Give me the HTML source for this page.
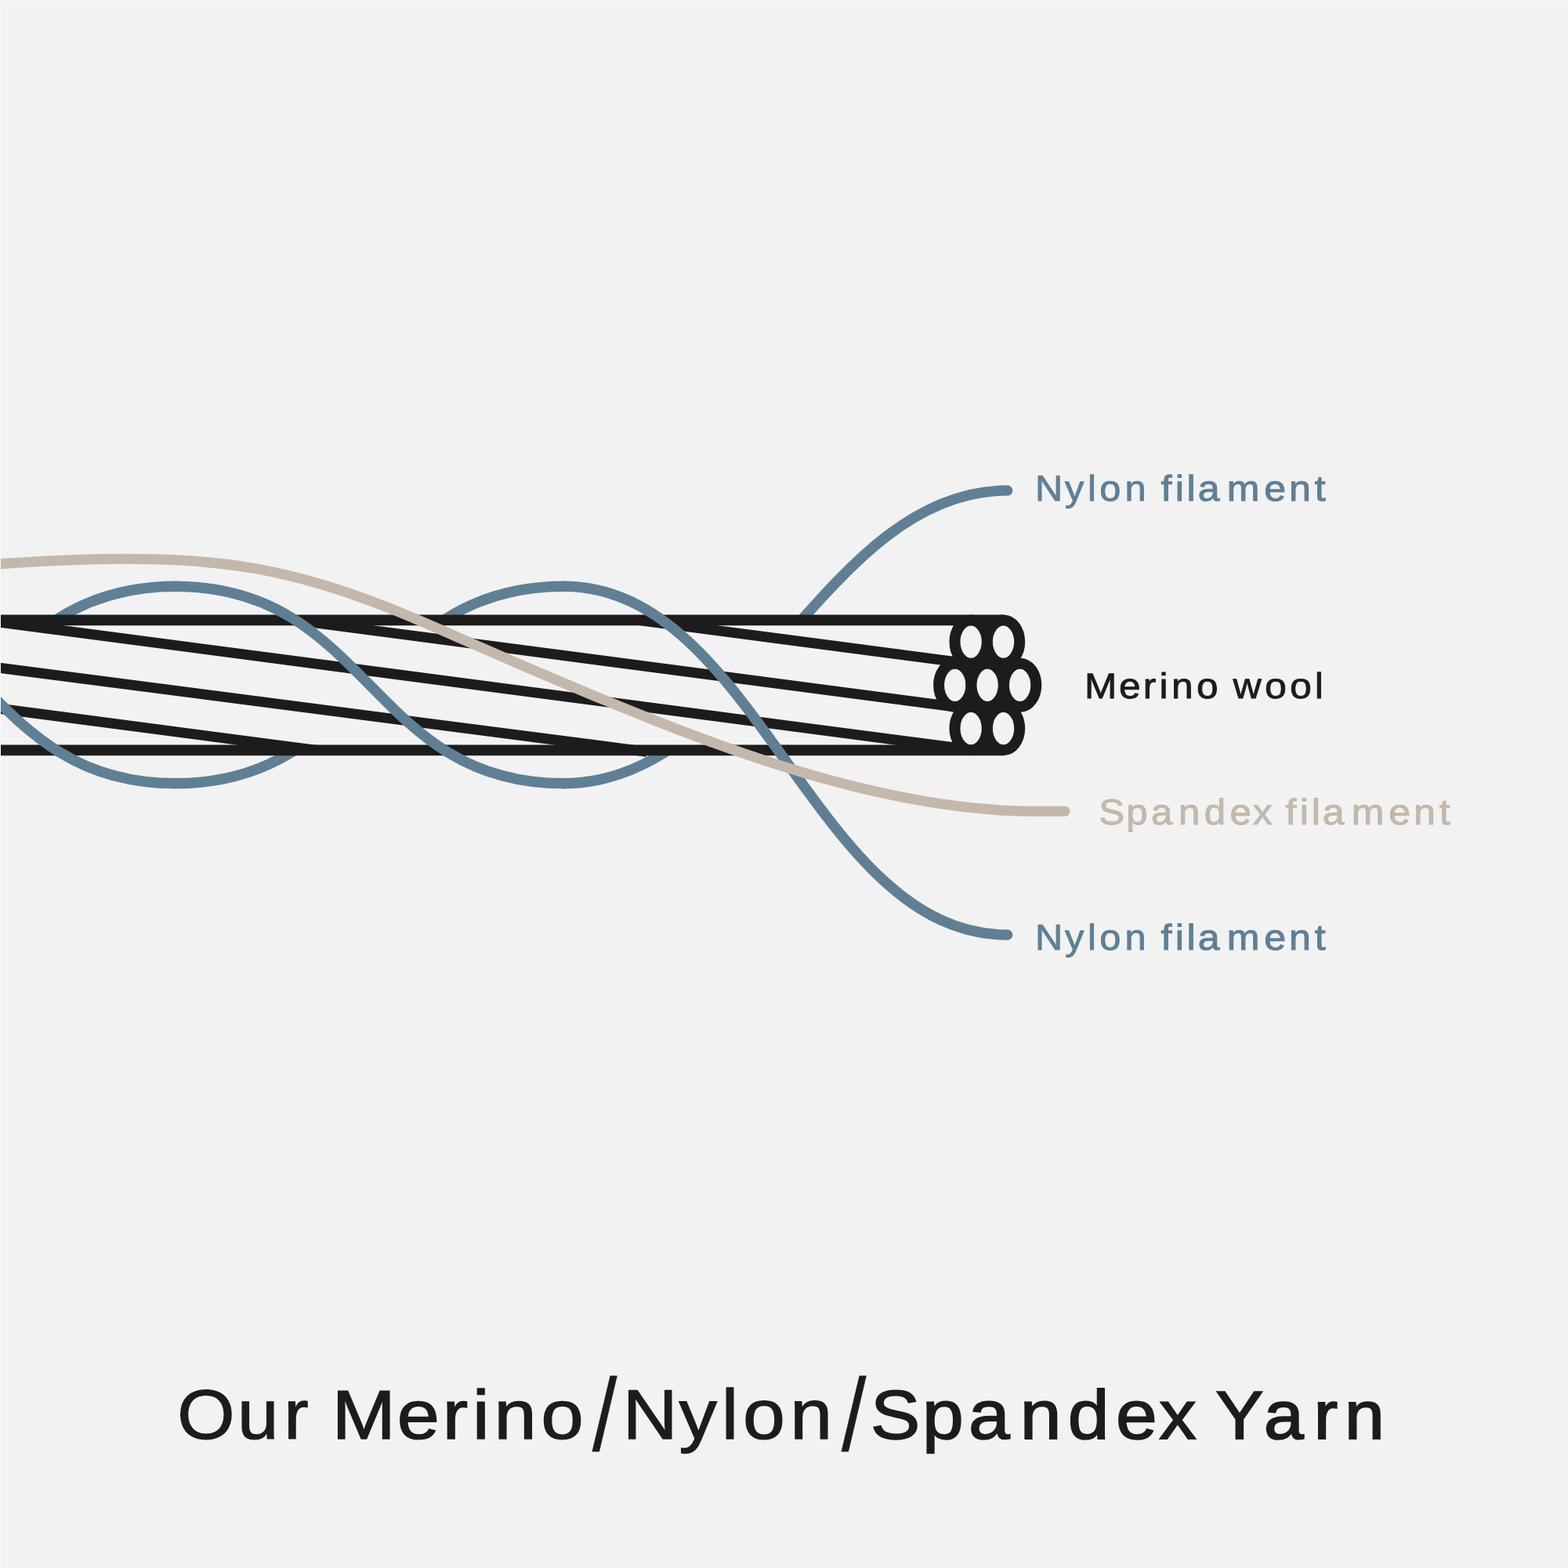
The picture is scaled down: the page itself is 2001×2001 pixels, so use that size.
<!DOCTYPE html>
<html lang="en">
<head>
<meta charset="utf-8">
<title>Our Merino/Nylon/Spandex Yarn</title>
<style>
html,body{margin:0;padding:0;background:#f2f2f2;}
body{width:2001px;height:2001px;font-family:"Liberation Sans",sans-serif;}
svg{display:block;width:2001px;height:2001px;will-change:transform;}
</style>
</head>
<body>
<svg width="2001" height="2001" viewBox="0 0 2001 2001">
<rect x="0" y="0" width="2001" height="2001" fill="#f2f2f2"/>
<defs>
<clipPath id="outside"><path d="M-50 0H2051V791.35 H-50Z M-50 957.4 H2051 V2051 H-50Z"/></clipPath>
</defs>
<g clip-path="url(#outside)" fill="none" stroke="#607f95" stroke-width="13.4" stroke-linecap="round">
<path d="M224 999.8 C471.65 999.8 471.65 748.3 719.3 748.3"/>
<path d="M-271.3 999.8 C-23.65 999.8 -23.65 748.3 224 748.3"/>
<path d="M719.3 999.8 C957.8 999.8 1050.6 625.9 1285.6 625.9"/>
</g>
<g fill="none" stroke="#1c1c1c" stroke-width="13">
<path d="M-5 791.35 H1281" stroke-width="13.7"/>
<path d="M-5 957.4 H1281" stroke-width="13.7"/>
<path d="M-5 903.74 L404 957.45"/>
<path d="M-5 851.75 L825.4 959.35"/>
<path d="M-5 793.47 L1235 956.28"/>
<path d="M375.35 791.35 L1215 901.6"/>
<path d="M813.85 791.35 L1235 846.65"/>
</g>
<g fill="#f2f2f2" stroke="#1c1c1c" stroke-width="14">
<ellipse cx="1239.1" cy="819.1" rx="20.65" ry="27.65"/>
<ellipse cx="1280.5" cy="819.1" rx="20.65" ry="27.65"/>
<ellipse cx="1218.7" cy="874.35" rx="20.65" ry="27.65"/>
<ellipse cx="1260.1" cy="874.35" rx="20.65" ry="27.65"/>
<ellipse cx="1301.6" cy="874.35" rx="20.65" ry="27.65"/>
<ellipse cx="1239.1" cy="929.55" rx="20.65" ry="27.65"/>
<ellipse cx="1280.5" cy="929.55" rx="20.65" ry="27.65"/>
</g>
<g fill="none" stroke="#607f95" stroke-width="13.4" stroke-linecap="round">
<path d="M-271.3 748.3 C-23.65 748.3 -23.65 999.8 224 999.8"/>
<path d="M719.3 748.3 C966.95 748.3 1037.95 1193 1285.6 1193"/>
<path d="M224 748.3 C471.65 748.3 471.65 999.8 719.3 999.8"/>
</g>
<path d="M-20.00 721.10 C8.73 718.91 37.46 717.04 66.19 715.68 C94.92 714.32 123.65 713.47 152.38 713.34 C181.10 713.20 209.83 713.73 238.56 715.53 C267.29 717.32 296.02 720.40 324.75 725.41 C353.48 730.42 382.21 737.43 410.94 746.02 C439.67 754.62 468.40 764.80 497.12 776.15 C525.85 787.50 554.58 800.15 583.31 812.89 C612.04 825.63 640.77 838.16 669.50 850.44 C698.23 862.72 726.96 874.92 755.69 886.89 C784.42 898.85 813.15 910.57 841.88 921.84 C870.60 933.12 899.33 943.95 928.06 954.15 C956.79 964.35 985.52 973.91 1014.25 982.65 C1042.98 991.38 1071.71 999.29 1100.44 1006.17 C1129.17 1013.06 1157.90 1018.92 1186.62 1023.57 C1215.35 1028.22 1244.08 1031.65 1272.81 1033.67 C1301.54 1035.70 1330.27 1035.33 1359.00 1035.33" fill="none" stroke="#c3b8ab" stroke-width="13" stroke-linecap="round"/>
<g font-family="'Liberation Sans', sans-serif" style="font-kerning:none;font-variant-ligatures:none" text-rendering="geometricPrecision" stroke-linejoin="miter">
<text x="226.16 303.03 362.39 399.08 423.82 506.87 564.83 602.92 630.57 690.62 755.72 794.86 866.47 920.84 948.01 1008.35 1073.69 1111.06 1176.91 1235.9 1301.68 1362.88 1424.12 1479.37 1528.71 1551.45 1612.92 1676.71 1716.07" y="1836.13 1836.13 1836.13 1835.9 1836.07 1836.07 1836.07 1836.07 1836.07 1836.07 1850.66 1835.97 1835.97 1835.97 1835.97 1835.97 1850.66 1836.06 1836.06 1836.06 1836.06 1836.06 1836.06 1836.06 1835.9 1835.95 1835.95 1835.95 1835.95" fill="#1c1c1c" stroke="#1c1c1c" xml:space="preserve"><tspan font-size="89.34" textLength="157.16" lengthAdjust="spacingAndGlyphs" stroke-width="1.24">Our</tspan> <tspan font-size="88.33" textLength="297.19" lengthAdjust="spacingAndGlyphs" stroke-width="1.46">Merino</tspan><tspan font-size="131.3" textLength="31.74" lengthAdjust="spacingAndGlyphs" stroke-width="0.4">/</tspan><tspan font-size="89.68" textLength="247.66" lengthAdjust="spacingAndGlyphs" stroke-width="1.3">Nylon</tspan><tspan font-size="131.3" textLength="31.74" lengthAdjust="spacingAndGlyphs" stroke-width="0.4">/</tspan><tspan font-size="88.39" textLength="373.74" lengthAdjust="spacingAndGlyphs" stroke-width="1.78">Spandex</tspan> <tspan font-size="86.87" textLength="192.3" lengthAdjust="spacingAndGlyphs" stroke-width="2.06">Yarn</tspan></text>
<text x="1321.06 1359 1387.92 1403.22 1435.5 1466.59 1481.49 1499.79 1514.63 1528.7 1565.8 1613.28 1645.02 1677.79" y="638.6 638.6 638.6 638.6 638.6 638.6 638.6 638.6 638.6 638.6 638.6 638.6 638.6 638.6" fill="#607f95" stroke="#607f95" xml:space="preserve"><tspan font-size="46.1" textLength="124.38" lengthAdjust="spacingAndGlyphs" stroke-width="0.9">Nylon</tspan> <tspan font-size="45.9" textLength="175.01" lengthAdjust="spacingAndGlyphs" stroke-width="1.03">filament</tspan></text>
<text x="1383.97 1427.9 1458.85 1479.46 1494.9 1527.01 1558.19 1573.56 1613.96 1645.9 1677.68" y="890.8 890.8 890.8 890.8 890.8 890.8 890.8 890.8 890.8 890.8 890.8" fill="#1c1c1c" stroke="#1c1c1c" xml:space="preserve"><tspan font-size="45.62" textLength="151.48" lengthAdjust="spacingAndGlyphs" stroke-width="0.88">Merino</tspan> <tspan font-size="45.95" textLength="103.21" lengthAdjust="spacingAndGlyphs" stroke-width="0.79">wool</tspan></text>
<text x="1402.25 1437.38 1468.94 1504.03 1536.75 1569.49 1599.1 1625.63 1640.52 1658.82 1673.67 1687.73 1724.84 1772.31 1804.06 1836.82" y="1052 1052 1052 1052 1052 1052 1052 1052 1052 1052 1052 1052 1052 1052 1052 1052" fill="#c3b8ab" stroke="#c3b8ab" xml:space="preserve"><tspan font-size="45.9" textLength="194.03" lengthAdjust="spacingAndGlyphs" stroke-width="1">Spandex</tspan> <tspan font-size="45.9" textLength="175.01" lengthAdjust="spacingAndGlyphs" stroke-width="1.03">filament</tspan></text>
<text x="1321.06 1359 1387.92 1403.22 1435.5 1466.59 1481.49 1499.79 1514.63 1528.7 1565.8 1613.28 1645.02 1677.79" y="1211.7 1211.7 1211.7 1211.7 1211.7 1211.7 1211.7 1211.7 1211.7 1211.7 1211.7 1211.7 1211.7 1211.7" fill="#607f95" stroke="#607f95" xml:space="preserve"><tspan font-size="46.1" textLength="124.38" lengthAdjust="spacingAndGlyphs" stroke-width="0.9">Nylon</tspan> <tspan font-size="45.9" textLength="175.01" lengthAdjust="spacingAndGlyphs" stroke-width="1.03">filament</tspan></text>
</g>
<rect x="0" y="0" width="2001" height="1" fill="#f9f9f9"/>
<rect x="0" y="0" width="1" height="2001" fill="#f9f9f9"/>
</svg>
</body>
</html>
